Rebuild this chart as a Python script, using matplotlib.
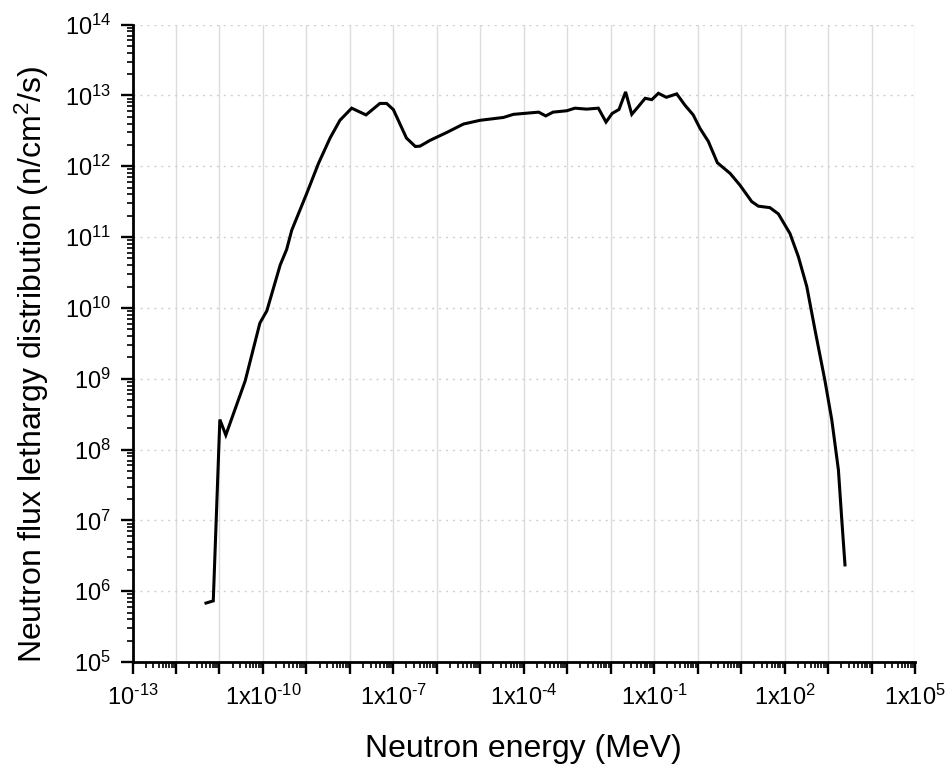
import matplotlib
matplotlib.use("Agg")
import matplotlib.pyplot as plt
from matplotlib.ticker import LogLocator, NullFormatter, FixedLocator, FixedFormatter
import numpy as np

plt.rcParams['font.family'] = ['Liberation Sans', 'DejaVu Sans']
plt.rcParams['mathtext.fontset'] = 'custom'
plt.rcParams['mathtext.rm'] = 'Liberation Sans'
plt.rcParams['mathtext.it'] = 'Liberation Sans:italic'
plt.rcParams['mathtext.bf'] = 'Liberation Sans:bold'

# Neutron energy (MeV)
energy = [4.9e-12, 7.2e-12, 1.02e-11, 1.4e-11, 3.9e-11, 8.5e-11, 1.23e-10, 2.5e-10,
          3.5e-10, 4.6e-10, 1.02e-9, 1.9e-9, 3.5e-9, 5.9e-9, 1.1e-8, 2.35e-8,
          4.9e-8, 7.0e-8, 1.0e-7, 2.0e-7, 3.2e-7, 4.1e-7, 7.0e-7, 1.7e-6,
          4.1e-6, 9.9e-6, 3.4e-5, 5.8e-5, 2.2e-4, 3.2e-4, 4.7e-4, 9.8e-4,
          1.5e-3, 2.8e-3, 5.2e-3, 7.8e-3, 1.08e-2, 1.55e-2, 2.2e-2, 3.05e-2,
          4.3e-2, 6.2e-2, 8.8e-2, 0.125, 0.19, 0.33, 0.51, 0.79,
          1.13, 1.76, 2.84, 5.6, 9.4, 17.5, 24.9, 46,
          72, 133, 207, 324, 500, 850, 1220, 1730, 2070, 2450]

# Neutron flux lethargy distribution (n/cm^2/s)
flux = [6.8e5, 7.3e5, 2.65e8, 1.6e8, 9.3e8, 6.1e9, 9.1e9, 4.05e10,
        6.65e10, 1.25e11, 4.15e11, 1.1e12, 2.5e12, 4.45e12, 6.6e12, 5.3e12,
        7.7e12, 7.7e12, 6.3e12, 2.5e12, 1.9e12, 1.92e12, 2.32e12, 3.0e12,
        3.94e12, 4.45e12, 4.88e12, 5.4e12, 5.8e12, 5.13e12, 5.8e12, 6.07e12,
        6.6e12, 6.4e12, 6.6e12, 4.2e12, 5.56e12, 6.33e12, 1.12e13, 5.4e12,
        6.93e12, 9.1e12, 8.7e12, 1.07e13, 9.4e12, 1.05e13, 7.27e12, 5.3e12,
        3.43e12, 2.24e12, 1.12e12, 7.9e11, 5.4e11, 3.17e11, 2.73e11, 2.6e11,
        2.12e11, 1.12e11, 5.3e10, 2.0e10, 4.9e9, 9.3e8, 2.6e8, 5.15e7, 1.01e7, 2.35e6]

x_major = [10.0**k for k in range(-13, 6)]
x_labels = ['$10^{\\text{-}13}$', '', '', '$1\\mathrm{x}10^{\\text{-}10}$', '', '',
            '$1\\mathrm{x}10^{\\text{-}7}$', '', '',
            '$1\\mathrm{x}10^{\\text{-}4}$', '', '', '$1\\mathrm{x}10^{\\text{-}1}$', '', '',
            '$1\\mathrm{x}10^{2}$', '', '', '$1\\mathrm{x}10^{5}$']
y_major = [10.0**k for k in range(5, 15)]
y_labels = ['$10^{%d}$' % k for k in range(5, 15)]

fig = plt.figure(figsize=(9.48, 7.65), dpi=100)
ax = fig.add_axes([0.1398, 0.1346, 0.8254, 0.8333])

ax.plot(energy, flux, color='black', lw=2.2, solid_joinstyle='miter', zorder=3)

ax.set_xscale('log')
ax.set_yscale('log')
ax.set_xlim(1e-13, 1e5)
ax.set_ylim(1e5, 1e14)

ax.xaxis.set_major_locator(FixedLocator(x_major))
ax.xaxis.set_major_formatter(FixedFormatter(x_labels))
ax.xaxis.set_minor_locator(LogLocator(base=10, subs=np.arange(2, 10), numticks=100))
ax.xaxis.set_minor_formatter(NullFormatter())
ax.yaxis.set_major_locator(FixedLocator(y_major))
ax.yaxis.set_major_formatter(FixedFormatter(y_labels))
ax.yaxis.set_minor_locator(LogLocator(base=10, subs=np.arange(2, 10), numticks=100))
ax.yaxis.set_minor_formatter(NullFormatter())

for s in ['top', 'right']:
    ax.spines[s].set_visible(False)
for s in ['left', 'bottom']:
    ax.spines[s].set_linewidth(2.0)

ax.tick_params(which='major', direction='out', length=8.5, width=1.7, labelsize=17)
ax.tick_params(axis='x', which='major', pad=8)
ax.tick_params(axis='y', which='major', pad=7)
ax.tick_params(which='minor', direction='out', length=4, width=1.2)

ax.grid(True, which='major', axis='x', color='#dcdcdc', lw=1.0, ls='-')
ax.grid(True, which='major', axis='y', color='#d0d0d0', lw=1.0, ls=(0, (1.5, 3.5)))
ax.set_axisbelow(True)

ax.set_xlabel('Neutron energy (MeV)', fontsize=23, labelpad=17)
ax.set_ylabel('Neutron flux lethargy distribution (n/cm$^2$/s)', fontsize=23)
ax.yaxis.set_label_coords(-0.104, 0.466)

fig.savefig('out.png', dpi=100, facecolor='white')
